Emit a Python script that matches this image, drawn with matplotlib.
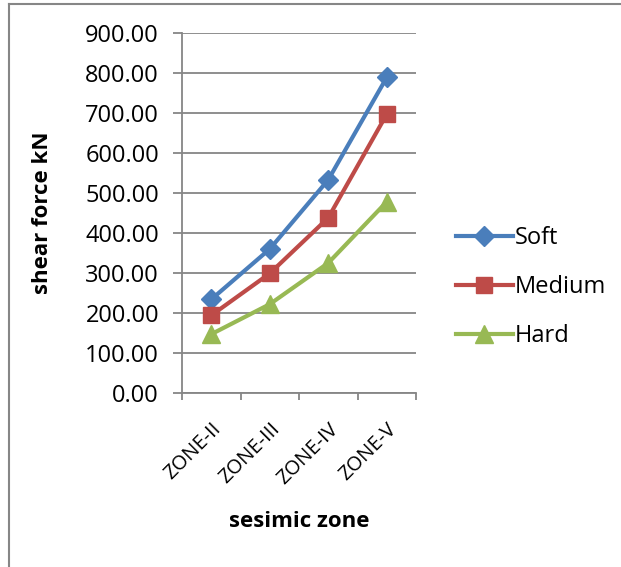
import numpy as np
import matplotlib.pyplot as plt
from matplotlib.lines import Line2D

# data
zones = ['ZONE-II', 'ZONE-III', 'ZONE-IV', 'ZONE-V']
soft = [234, 360, 533, 789]
medium = [194, 299, 438, 697]
hard = [147, 222, 325, 478]

yticks = np.arange(0, 901, 100)

plt.rcParams['font.family'] = ['Open Sans', 'DejaVu Sans']

fig = plt.figure(figsize=(6.21, 5.67), dpi=100)
ax = fig.add_axes([182 / 621, 1 - 393 / 567, 234 / 621, 360 / 567])

x = np.arange(len(zones))
ax.plot(x, soft, color='#4A7EBB', lw=3, marker='D', ms=10, label='Soft')
ax.plot(x, medium, color='#BE4B48', lw=3, marker='s', ms=12, label='Medium')
ax.plot(x, hard, color='#98B954', lw=3, marker='^', ms=13, label='Hard')

ax.set_xlim(-0.5, len(zones) - 0.5)
ax.set_ylim(0, 900)
ax.set_yticks(yticks)
ax.set_yticklabels(['%.2f' % v for v in yticks], fontsize=17)
ax.yaxis.grid(True, color='#868686', lw=1.3)
ax.set_axisbelow(True)

# category labels between boundary ticks, like excel
ax.set_xticks(x)
ax.set_xticklabels(zones, fontsize=14.5, rotation=45, ha='right', rotation_mode='anchor')
ax.tick_params(axis='x', length=0, pad=19)
ax.set_xticks(np.arange(-0.5, len(zones)), minor=True)
ax.tick_params(axis='x', which='minor', length=5, width=1.3, color='#868686')
ax.tick_params(axis='y', length=6.5, width=1.3, color='#868686', pad=10)

for s in ['top', 'right']:
    ax.spines[s].set_visible(False)
for s in ['left', 'bottom']:
    ax.spines[s].set_color('#868686')
    ax.spines[s].set_linewidth(1.3)

ax.set_ylabel('shear force kN', fontsize=16, fontweight='bold', labelpad=23)
ax.set_xlabel('sesimic zone', fontsize=16, fontweight='bold', labelpad=16)

ax.legend(loc='center left', bbox_to_anchor=(1.08, 0.294), frameon=False, fontsize=17,
          handlelength=2.4, handletextpad=0.1, labelspacing=1.05)

# outer frame of the embedded chart
fig.add_artist(Line2D([8.5 / 621, 8.5 / 621], [0, 1 - 4 / 567], color='#868686', lw=1.5))
fig.add_artist(Line2D([8.5 / 621, 1], [1 - 4 / 567, 1 - 4 / 567], color='#868686', lw=1.5))

fig.savefig('out.png', dpi=100)
